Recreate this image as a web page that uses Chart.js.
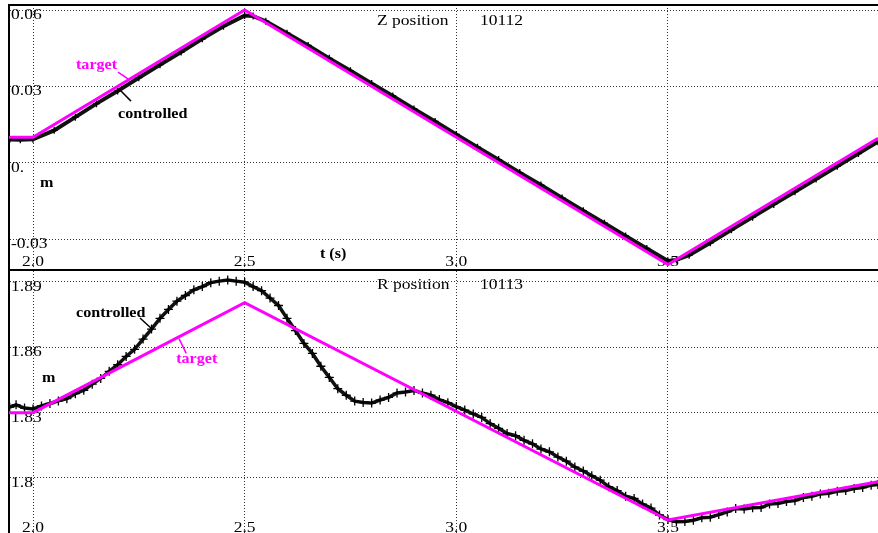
<!DOCTYPE html>
<html>
<head>
<meta charset="utf-8">
<script src="https://cdn.jsdelivr.net/npm/chart.js@4.4.0/dist/chart.umd.min.js"></script>
<style>
  html, body { margin: 0; padding: 0; background: #fff; width: 878px; height: 533px; overflow: hidden; }
  #top-panel { position: absolute; left: 0; top: 0; width: 878px; height: 271px; }
  #bottom-panel { position: absolute; left: 0; top: 271px; width: 878px; height: 265px; }
</style>
</head>
<body>
<div id="top-panel"><canvas id="zChart"></canvas></div>
<div id="bottom-panel"><canvas id="rChart"></canvas></div>
<script>
// time axis
const tMin = 1.9433
const tMax = 3.9962
const xTicks = [2.0, 2.5, 3.0, 3.5]
const xTickLabels = ['2.0', '2.5', '3.0', '3.5']

// Z position panel
const zTicks = [-0.03, 0, 0.03, 0.06]
const zTickLabels = ['-0.03', '0.', '0.03', '0.06']
const targetTimes = [1.9433, 2.0, 2.5, 3.5, 3.9962]
const zTarget = [0.0100, 0.0100, 0.0600, -0.0400, 0.0096]
const zTimes = [1.945, 1.97, 2.00, 2.05, 2.10, 2.15, 2.20, 2.25, 2.30, 2.35, 2.40, 2.45, 2.50, 2.52,
  2.55, 2.60, 2.65, 2.70, 2.75, 2.80, 2.85, 2.90, 2.95, 3.00, 3.05, 3.10, 3.15, 3.20, 3.25,
  3.30, 3.35, 3.40, 3.45, 3.50, 3.52, 3.55, 3.60, 3.65, 3.70, 3.75, 3.80, 3.85, 3.90, 3.95, 3.996]
const zControlled = [0.0091, 0.0090, 0.0092, 0.0127, 0.0179, 0.0232, 0.0282, 0.0334, 0.0385, 0.0435,
  0.0487, 0.0536, 0.0578, 0.0576, 0.0556, 0.0509, 0.0461, 0.0410, 0.0361, 0.0311, 0.0262, 0.0211,
  0.0162, 0.0111, 0.0061, 0.0012, -0.0039, -0.0088, -0.0139, -0.0189, -0.0238, -0.0288, -0.0337,
  -0.0386, -0.0382, -0.0364, -0.0315, -0.0264, -0.0214, -0.0164, -0.0114, -0.0064, -0.0014, 0.0036, 0.0082]

// R position panel
const rTicks = [1.80, 1.83, 1.86, 1.89]
const rTickLabels = ['1.8', '1.83', '1.86', '1.89']
const rTarget = [1.8300, 1.8300, 1.8805, 1.7807, 1.7983]
const rTimes = [1.945, 1.96, 1.98, 2.00, 2.02, 2.04, 2.06, 2.08, 2.10, 2.12, 2.14, 2.16, 2.18, 2.20,
  2.22, 2.24, 2.26, 2.28, 2.30, 2.32, 2.34, 2.36, 2.38, 2.40, 2.42, 2.44, 2.46, 2.48, 2.50, 2.52,
  2.54, 2.56, 2.58, 2.60, 2.62, 2.64, 2.66, 2.68, 2.70, 2.72, 2.74, 2.76, 2.78, 2.80, 2.82, 2.84,
  2.86, 2.88, 2.90, 2.92, 2.94, 2.96, 2.98, 3.00, 3.02, 3.04, 3.06, 3.08, 3.10, 3.12, 3.14, 3.16,
  3.18, 3.20, 3.22, 3.24, 3.26, 3.28, 3.30, 3.32, 3.34, 3.36, 3.38, 3.40, 3.42, 3.44, 3.46, 3.48,
  3.50, 3.52, 3.54, 3.56, 3.58, 3.60, 3.62, 3.64, 3.66, 3.68, 3.70, 3.72, 3.74, 3.76, 3.78, 3.80,
  3.82, 3.84, 3.86, 3.88, 3.90, 3.92, 3.94, 3.96, 3.98, 3.996]
const rControlled = [1.8325, 1.8336, 1.8321, 1.8317, 1.8331, 1.8342, 1.8354, 1.8364, 1.8387, 1.8403,
  1.8431, 1.8457, 1.8490, 1.8520, 1.8558, 1.8591, 1.8638, 1.8684, 1.8733, 1.8774, 1.8812, 1.8838,
  1.8864, 1.8879, 1.8897, 1.8904, 1.8909, 1.8904, 1.8899, 1.8879, 1.8860, 1.8826, 1.8792, 1.8733,
  1.8677, 1.8618, 1.8572, 1.8513, 1.8462, 1.8410, 1.8380, 1.8353, 1.8347, 1.8344, 1.8358, 1.8370,
  1.8390, 1.8395, 1.8402, 1.8390, 1.8380, 1.8360, 1.8346, 1.8328, 1.8312, 1.8294, 1.8278, 1.8250,
  1.8228, 1.8204, 1.8194, 1.8173, 1.8157, 1.8133, 1.8120, 1.8096, 1.8077, 1.8050, 1.8032, 1.8010,
  1.7990, 1.7960, 1.7942, 1.7916, 1.7906, 1.7880, 1.7862, 1.7830, 1.7809, 1.7799, 1.7800, 1.7806,
  1.7817, 1.7820, 1.7832, 1.7844, 1.7860, 1.7858, 1.7863, 1.7864, 1.7880, 1.7883, 1.7892, 1.7896,
  1.7910, 1.7916, 1.7927, 1.7930, 1.7939, 1.7943, 1.7952, 1.7956, 1.7967, 1.7970]

const magenta = '#ff00ff'
const tickFont = '14px "Liberation Serif"'
const noteFont = '14px "Liberation Serif"'
const boldFont = 'bold 14px "Liberation Serif"'

function toPoints(xs, ys) {
    return xs.map((x, i) => ({x: x, y: ys[i]}))
}

// the original screenshot is stretched sideways, so text is widened too
function drawText(ctx, text, x, y, font, color, align, stretch) {
    ctx.save()
    ctx.font = font
    ctx.fillStyle = color
    ctx.textAlign = 'left'
    ctx.textBaseline = 'alphabetic'
    const w = ctx.measureText(text).width * stretch
    ctx.translate(align === 'center' ? x - w / 2 : x, y)
    ctx.scale(stretch, 1)
    ctx.fillText(text, 0, 0)
    ctx.restore()
}

function panelText(yTicks, yLabels, notes, leaders) {
    return {
        id: 'panelText',
        beforeDatasetsDraw(chart) {
            const {ctx, chartArea, scales} = chart
            xTicks.forEach((v, i) => {
                drawText(ctx, xTickLabels[i], scales.x.getPixelForValue(v), chartArea.bottom - 4, tickFont, '#000', 'center', 1.25)
            })
            yTicks.forEach((v, i) => {
                drawText(ctx, yLabels[i], chartArea.left + 2, scales.y.getPixelForValue(v) + 9, tickFont, '#000', 'left', 1.25)
            })
        },
        afterDatasetsDraw(chart) {
            const {ctx, scales} = chart
            leaders.forEach(l => {
                ctx.save()
                ctx.strokeStyle = l.color
                ctx.lineWidth = 1.5
                ctx.beginPath()
                ctx.moveTo(scales.x.getPixelForValue(l.t1), scales.y.getPixelForValue(l.v1))
                ctx.lineTo(scales.x.getPixelForValue(l.t2), scales.y.getPixelForValue(l.v2))
                ctx.stroke()
                ctx.restore()
            })
            notes.forEach(n => {
                drawText(ctx, n.text, scales.x.getPixelForValue(n.t), scales.y.getPixelForValue(n.v),
                    n.bold ? boldFont : noteFont, n.color || '#000', 'left', n.bold ? 1.15 : 1.25)
            })
        }
    }
}

function makeScales(yMin, yMax, yTicks, topBorder) {
    const grid = {color: '#333', lineWidth: 1, drawTicks: false}
    const scales = {
        x: {
            type: 'linear', position: 'bottom', min: tMin, max: tMax,
            afterBuildTicks: s => { s.ticks = xTicks.map(v => ({value: v})) },
            ticks: {display: false},
            grid: grid,
            border: {display: true, color: '#000', width: 2, dash: [1, 2]}
        },
        y: {
            type: 'linear', position: 'left', min: yMin, max: yMax,
            afterBuildTicks: s => { s.ticks = yTicks.map(v => ({value: v})) },
            ticks: {display: false},
            grid: grid,
            border: {display: true, color: '#000', width: 2, dash: [1, 2]}
        }
    }
    if (topBorder) {
        scales.x2 = {
            type: 'linear', position: 'top', min: tMin, max: tMax,
            ticks: {display: false},
            grid: {display: false, drawTicks: false},
            border: {display: true, color: '#000', width: 2}
        }
    }
    return scales
}

function makeChart(canvas, opts) {
    return new Chart(canvas, {
        type: 'line',
        data: {
            datasets: [{
                data: toPoints(targetTimes, opts.target),
                borderColor: magenta,
                borderWidth: 3,
                pointRadius: 0,
                tension: 0
            }, {
                data: toPoints(opts.times, opts.controlled),
                borderColor: '#111',
                borderWidth: opts.bandWidth,
                pointStyle: 'cross',
                pointRadius: opts.crossSize,
                pointBorderWidth: 1.3,
                pointBorderColor: '#000',
                tension: 0
            }]
        },
        options: {
            responsive: true,
            maintainAspectRatio: false,
            animation: false,
            events: [],
            devicePixelRatio: 1,
            layout: {autoPadding: false, padding: opts.padding},
            plugins: {legend: {display: false}, tooltip: {enabled: false}},
            scales: makeScales(opts.yMin, opts.yMax, opts.yTicks, opts.topBorder)
        },
        plugins: [panelText(opts.yTicks, opts.yLabels, opts.notes, opts.leaders)]
    })
}

const zChart = makeChart(document.getElementById('zChart'), {
    target: zTarget, times: zTimes, controlled: zControlled, crossSize: 3.5, bandWidth: 4,
    yMin: -0.04218, yMax: 0.06197, yTicks: zTicks, yLabels: zTickLabels, topBorder: true,
    padding: {top: 5, left: 9, right: 0, bottom: 1},
    notes: [
        {text: 'Z position', t: 2.8127, v: 0.0541},
        {text: '10112', t: 3.0560, v: 0.0541},
        {text: 'target', t: 2.1016, v: 0.0368, bold: true, color: magenta},
        {text: 'controlled', t: 2.2008, v: 0.0176, bold: true},
        {text: 'm', t: 2.0165, v: -0.0096, bold: true},
        {text: 't (s)', t: 2.6779, v: -0.0375, bold: true}
    ],
    leaders: [
        {t1: 2.2008, v1: 0.0356, t2: 2.2244, v2: 0.0329, color: magenta},
        {t1: 2.2079, v1: 0.0282, t2: 2.2315, v2: 0.0242, color: '#000'}
    ]
})

const rChart = makeChart(document.getElementById('rChart'), {
    target: rTarget, times: rTimes, controlled: rControlled, crossSize: 4.5, bandWidth: 3.5,
    yMin: 1.77336, yMax: 1.89505, yTicks: rTicks, yLabels: rTickLabels, topBorder: false,
    padding: {top: 0, left: 9, right: 0, bottom: 0},
    notes: [
        {text: 'R position', t: 2.8127, v: 1.8868},
        {text: '10113', t: 3.0560, v: 1.8868},
        {text: 'controlled', t: 2.1016, v: 1.8739, bold: true},
        {text: 'target', t: 2.3382, v: 1.8530, bold: true, color: magenta},
        {text: 'm', t: 2.0213, v: 1.8441, bold: true}
    ],
    leaders: [
        {t1: 2.2528, v1: 1.8735, t2: 2.2811, v2: 1.8684, color: '#000'},
        {t1: 2.3450, v1: 1.8640, t2: 2.3620, v2: 1.8572, color: magenta}
    ]
})
</script>
</body>
</html>
